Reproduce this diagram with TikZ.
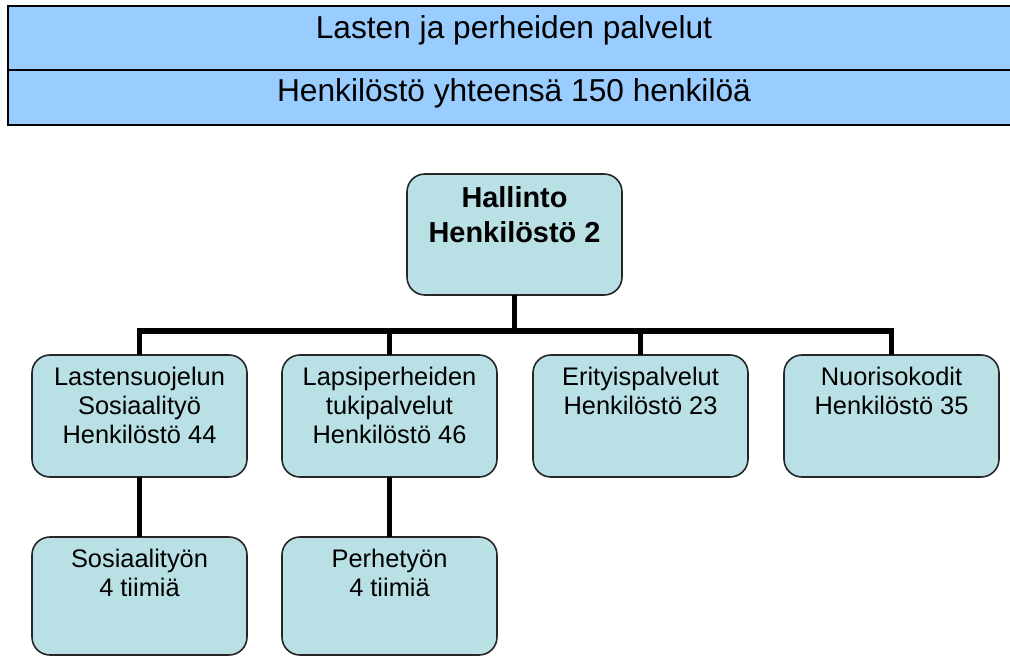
\documentclass[tikz,border=0pt]{standalone}
\usepackage{fontspec}
\setmainfont{Liberation Sans}
\newfontfamily\hdrfont{Liberation Sans}
\newfontfamily\boxfont{Liberation Sans}
\definecolor{hdrblue}{HTML}{99CCFF}
\definecolor{boxfill}{HTML}{B9E0E4}
\tikzset{
  hdrtext/.style={inner sep=0pt, outer sep=0pt, anchor=base, font=\hdrfont\fontsize{31.8}{36}\selectfont},
  hdrline/.style={line width=3pt, draw=black},
  orgbox/.style={draw=black!85, line width=1.6pt, fill=boxfill, rounded corners=18pt, inner sep=0pt, outer sep=0pt},
  conn/.style={line width=5.5pt, draw=black}
}
\begin{document}
\begin{tikzpicture}[x=1bp,y=-1bp]
\useasboundingbox (0,0) rectangle (1010,657);
\clip (0,0) rectangle (1010,657);
\fill[white] (0,0) rectangle (1010,657);
% header band (open on the right, running past the edge)
\fill[hdrblue] (8,6) rectangle (1040,125);
\draw[hdrline] (1040,6) -- (8,6) -- (8,125) -- (1040,125);
\draw[hdrline] (8,70) -- (1040,70);
\node[hdrtext] (h1) at (514,39) {Lasten ja perheiden palvelut};
\node[hdrtext] (h2) at (514,101.5) {Henkilöstö yhteensä 150 henkilöä};
% top box
\node[orgbox] (hal) at (514.5,234.5) {\parbox[c][121bp][t]{215bp}{\centering\bfseries\fontsize{29}{35}\selectfont\rule{0pt}{34pt}Hallinto\\Henkilöstö 2}};
% second level
\node[orgbox] (b1) at (139.5,416) {\parbox[c][122bp][t]{215bp}{\centering\boxfont\fontsize{25.5}{29}\selectfont\rule{0pt}{31pt}Lastensuojelun\\Sosiaalityö\\Henkilöstö 44}};
\node[orgbox] (b2) at (389.5,416) {\parbox[c][122bp][t]{215bp}{\centering\boxfont\fontsize{25.5}{29}\selectfont\rule{0pt}{31pt}Lapsiperheiden\\tukipalvelut\\Henkilöstö 46}};
\node[orgbox] (b3) at (640.5,416) {\parbox[c][122bp][t]{215bp}{\centering\boxfont\fontsize{25.5}{29}\selectfont\rule{0pt}{31pt}Erityispalvelut\\Henkilöstö 23}};
\node[orgbox] (b4) at (891.5,416) {\parbox[c][122bp][t]{215bp}{\centering\boxfont\fontsize{25.5}{29}\selectfont\rule{0pt}{31pt}Nuorisokodit\\Henkilöstö 35}};
% third level
\node[orgbox] (c1) at (139.5,596) {\parbox[c][118bp][t]{215bp}{\centering\boxfont\fontsize{25.5}{29}\selectfont\rule{0pt}{31pt}Sosiaalityön\\4 tiimiä}};
\node[orgbox] (c2) at (389.5,596) {\parbox[c][118bp][t]{215bp}{\centering\boxfont\fontsize{25.5}{29}\selectfont\rule{0pt}{31pt}Perhetyön\\4 tiimiä}};
% connectors
\coordinate (bar) at (515,331);
\draw[conn] (hal.south) -- (hal.south |- bar);
\draw[conn] (b1.north) -- (b1.north |- bar) -- (b4.north |- bar) -- (b4.north);
\draw[conn] (b2.north) -- (b2.north |- bar);
\draw[conn] (b3.north) -- (b3.north |- bar);
\draw[conn] (b1.south) -- (c1.north);
\draw[conn] (b2.south) -- (c2.north);
\end{tikzpicture}
\end{document}
